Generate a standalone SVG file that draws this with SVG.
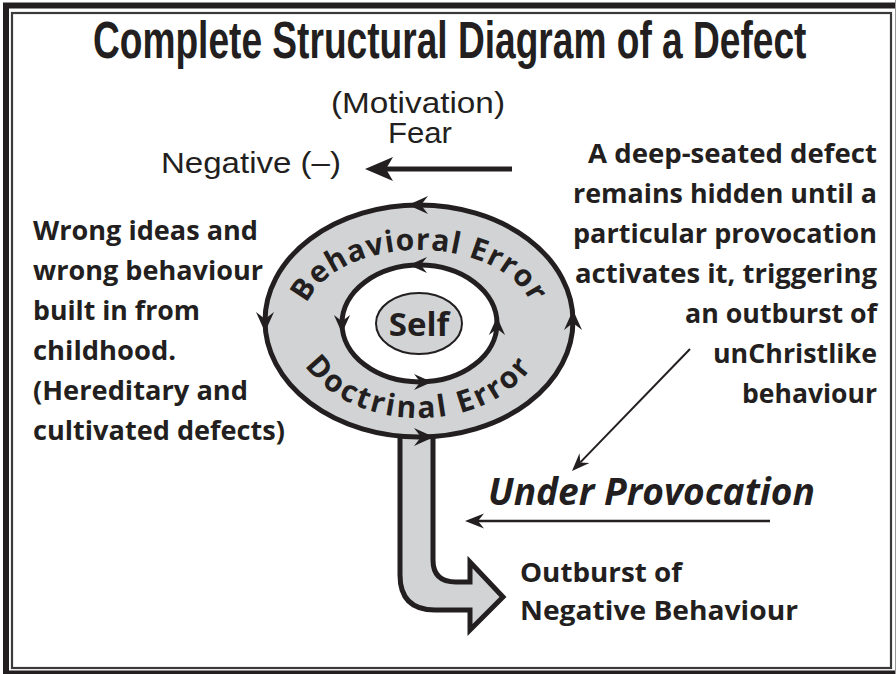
<svg xmlns="http://www.w3.org/2000/svg" xmlns:xlink="http://www.w3.org/1999/xlink" width="896" height="674" viewBox="0 0 896 674">
<style>
.ink{fill:#231f20}
.title{font-family:"Liberation Sans",Arial,sans-serif;font-weight:bold;font-size:51px;fill:#231f20}
.reg{font-family:"Liberation Sans",Arial,sans-serif;font-size:29px;fill:#231f20}
.bold{font-family:"Open Sans","Noto Sans",sans-serif;font-weight:bold;font-size:27px;fill:#231f20}
.ringtxt{font-family:"Open Sans","Noto Sans",sans-serif;font-weight:bold;font-size:30px;fill:#231f20}
.line{stroke:#231f20;fill:none}
.gray{fill:#d1d3d4}
</style>
<defs>
<path id="rh" d="M0,0 L-20,-9 L-13,0 L-20,9 Z" fill="#231f20"/>
<path id="arcTop" d="M 303,322 A 116 72 0 0 1 535,322"/>
<path id="arcBot" d="M 291,322 A 128 96 0 0 0 547,322"/>
</defs>
<rect width="896" height="674" fill="#ffffff"/>
<g id="frame">
<rect x="6" y="5.5" width="895" height="668" fill="none" stroke="#231f20" stroke-width="6"/>
<rect x="12" y="13" width="879" height="655" fill="none" stroke="#3a3a3a" stroke-width="2.2"/>
<line x1="895.5" y1="0" x2="895.5" y2="674" stroke="#999" stroke-width="1"/>
</g>
<g id="title">
<text class="title" x="0" y="0" transform="translate(93,58) scale(0.728,1)" textLength="980" lengthAdjust="spacingAndGlyphs">Complete Structural Diagram of a Defect</text>
</g>
<g id="motivation">
<text class="reg" x="331" y="113" textLength="174" lengthAdjust="spacingAndGlyphs">(Motivation)</text>
<text class="reg" x="388" y="143" textLength="64" lengthAdjust="spacingAndGlyphs">Fear</text>
<text class="reg" x="161" y="173" textLength="180" lengthAdjust="spacingAndGlyphs">Negative (–)</text>
</g>
<g id="left-note">
<text class="bold" x="33" y="240" textLength="225" lengthAdjust="spacingAndGlyphs">Wrong ideas and</text>
<text class="bold" x="33" y="280" textLength="230" lengthAdjust="spacingAndGlyphs">wrong behaviour</text>
<text class="bold" x="33" y="320" textLength="167" lengthAdjust="spacingAndGlyphs">built in from</text>
<text class="bold" x="33" y="360" textLength="143" lengthAdjust="spacingAndGlyphs">childhood.</text>
<text class="bold" x="33" y="400" textLength="215" lengthAdjust="spacingAndGlyphs">(Hereditary and</text>
<text class="bold" x="33" y="440" textLength="252" lengthAdjust="spacingAndGlyphs">cultivated defects)</text>
</g>
<g id="right-note">
<text class="bold" x="588" y="163" textLength="289" lengthAdjust="spacingAndGlyphs">A deep-seated defect</text>
<text class="bold" x="573" y="203" textLength="304" lengthAdjust="spacingAndGlyphs">remains hidden until a</text>
<text class="bold" x="573" y="243" textLength="304" lengthAdjust="spacingAndGlyphs">particular provocation</text>
<text class="bold" x="575" y="283" textLength="302" lengthAdjust="spacingAndGlyphs">activates it, triggering</text>
<text class="bold" x="685" y="323" textLength="192" lengthAdjust="spacingAndGlyphs">an outburst of</text>
<text class="bold" x="713" y="363" textLength="164" lengthAdjust="spacingAndGlyphs">unChristlike</text>
<text class="bold" x="742" y="403" textLength="135" lengthAdjust="spacingAndGlyphs">behaviour</text>
</g>
<g id="outburst-arrow">
<path d="M 400,420 L 400,575 Q 400,610 435,610 L 470,610 L 470,630 L 503,597 L 470,562 L 470,582 L 456,582 Q 433,582 433,560 L 433,420 Z" class="gray" stroke="#231f20" stroke-width="5" stroke-linejoin="miter"/>
</g>
<g id="ring">
<ellipse cx="419" cy="321" rx="154" ry="116" class="gray" stroke="#231f20" stroke-width="5"/>
<ellipse cx="419.5" cy="323.5" rx="77.5" ry="58.5" fill="#ffffff" stroke="#231f20" stroke-width="5"/>
<text class="ringtxt" letter-spacing="1"><textPath href="#arcTop" xlink:href="#arcTop" startOffset="50%" text-anchor="middle">Behavioral Error</textPath></text>
<text class="ringtxt" letter-spacing="2.5"><textPath href="#arcBot" xlink:href="#arcBot" startOffset="50%" text-anchor="middle">Doctrinal Error</textPath></text>
<use href="#rh" xlink:href="#rh" transform="translate(408,205) rotate(180)"/>
<use href="#rh" xlink:href="#rh" transform="translate(265,332) rotate(90)"/>
<use href="#rh" xlink:href="#rh" transform="translate(434,437)"/>
<use href="#rh" xlink:href="#rh" transform="translate(573,310) rotate(-90)"/>
<use href="#rh" xlink:href="#rh" transform="translate(409,265) rotate(180) scale(0.9)"/>
<use href="#rh" xlink:href="#rh" transform="translate(342,333) rotate(90) scale(0.9)"/>
<use href="#rh" xlink:href="#rh" transform="translate(432,382) scale(0.9)"/>
<use href="#rh" xlink:href="#rh" transform="translate(497,317) rotate(-90) scale(0.9)"/>
</g>
<g id="self">
<ellipse cx="419" cy="323.5" rx="43" ry="30.5" class="gray" stroke="#231f20" stroke-width="2"/>
<text class="ringtxt" x="419" y="336" text-anchor="middle" style="font-size:33px">Self</text>
</g>
<g id="provocation">
<text class="bold" x="488" y="505" textLength="327" lengthAdjust="spacingAndGlyphs" style="font-size:37px;font-style:italic">Under Provocation</text>
</g>
<g id="outburst-label">
<text class="bold" x="520" y="582" textLength="162" lengthAdjust="spacingAndGlyphs">Outburst of</text>
<text class="bold" x="520" y="620" textLength="278" lengthAdjust="spacingAndGlyphs">Negative Behaviour</text>
</g>
<g id="connectors">
<line class="line" x1="512" y1="169" x2="385" y2="169" stroke-width="5"/>
<path class="ink" d="M365,169 L393,157 L386,169 L393,181 Z"/>
<line class="line" x1="770" y1="521" x2="476" y2="521" stroke-width="2.5"/>
<path class="ink" d="M465,521 L484,513.5 L478,521 L484,528.5 Z"/>
<line class="line" x1="690" y1="349" x2="580.3" y2="462.4" stroke-width="2"/>
<path class="ink" d="M572,471 L579.5,453.2 L580.3,462.4 L589.5,463 Z"/>
</g>
</svg>
